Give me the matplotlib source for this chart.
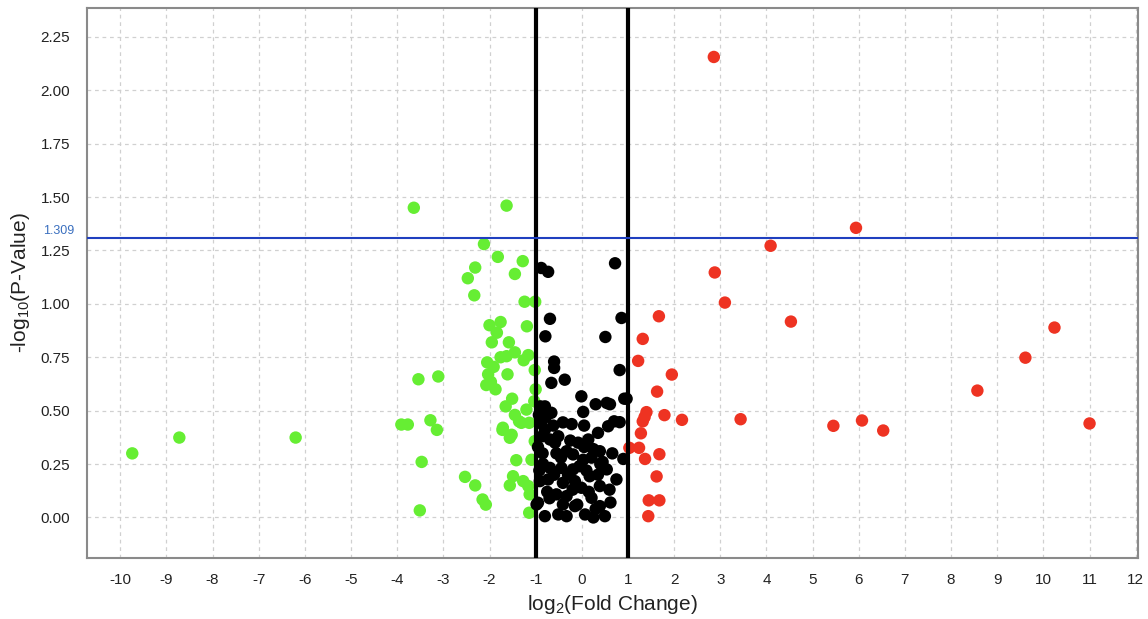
import matplotlib
matplotlib.use("Agg")
import matplotlib.pyplot as plt
import numpy as np

plt.rcParams['font.family'] = ['Liberation Sans', 'DejaVu Sans']
plt.rcParams['mathtext.default'] = 'regular'

# Down-regulated (green) points: log2FC, -log10(p)
green_x = [-9.74, -8.72, -6.20, -3.64, -1.63, -3.91, -3.77, -3.54, -3.11, -3.28, -3.14, -3.47, -3.51,
           -2.53, -2.31, -2.15, -2.08, -2.12, -1.82, -1.28, -2.31, -2.47, -1.45, -2.33, -1.24, -1.01,
           -2.00, -1.76, -1.84, -1.19, -1.95, -1.58, -1.45, -1.76, -1.63, -1.16, -1.26, -2.05, -1.02,
           -1.91, -2.03, -1.61, -2.07, -1.87, -1.00, -1.51, -1.65, -1.03, -1.45, -1.20, -1.36, -1.14,
           -1.72, -1.56, -1.02, -1.42, -1.09, -1.49, -1.56, -1.27, -1.16, -1.13, -1.14, -1.31, -1.52,
           -1.71, -1.97]
green_y = [0.300, 0.374, 0.374, 1.450, 1.460, 0.435, 0.435, 0.647, 0.660, 0.455, 0.410, 0.260, 0.033,
           0.190, 0.150, 0.084, 0.060, 1.280, 1.220, 1.200, 1.170, 1.120, 1.140, 1.040, 1.010, 1.010,
           0.900, 0.915, 0.865, 0.895, 0.820, 0.820, 0.773, 0.750, 0.755, 0.760, 0.736, 0.726, 0.690,
           0.705, 0.670, 0.670, 0.620, 0.600, 0.600, 0.556, 0.520, 0.544, 0.480, 0.505, 0.450, 0.443,
           0.410, 0.373, 0.357, 0.268, 0.270, 0.193, 0.150, 0.170, 0.147, 0.108, 0.022, 0.443, 0.387,
           0.420, 0.635]

# Not significant fold change (black)
black_x = [-0.88, -0.73, 0.72, -0.69, 0.86, -0.79, 0.51, -0.60, -0.60, 0.82, -0.66, -0.37, -0.01, 0.97,
           0.92, 0.30, 0.54, 0.61, 0.03, -0.80, -0.66, 0.82, 0.57, -0.22, -0.41, -0.80, 0.35, -0.69,
           -0.51, -0.08, 0.14, 0.39, -0.33, -0.19, 0.03, 0.21, 0.90, -0.84, -0.69, -0.44, -0.19, 0.54,
           0.17, 0.35, 0.75, -0.91, -0.73, -0.41, -0.15, -0.01, 0.39, -0.55, -0.33, 0.21, -0.95, -0.41,
           -0.15, 0.39, -0.80, -0.51, -0.33, 0.07, 0.50, -0.98, -0.93, -0.88, -0.95, -0.85, -0.55, -0.45,
           -0.25, 0.05, 0.25, -0.60, -0.30, -0.05, 0.10, 0.45, 0.60, -0.70, -0.20, 0.15, 0.30, -0.62,
           0.66, -0.92, 0.05, -0.10, 0.25, 0.70, -0.75, -0.58, 0.40, 0.62, -0.90, -0.78, -0.86]
black_y = [1.168, 1.150, 1.190, 0.930, 0.934, 0.848, 0.845, 0.730, 0.700, 0.690, 0.630, 0.645, 0.567,
           0.556, 0.556, 0.530, 0.536, 0.530, 0.494, 0.520, 0.490, 0.446, 0.427, 0.437, 0.445, 0.410,
           0.396, 0.365, 0.380, 0.350, 0.365, 0.310, 0.310, 0.295, 0.270, 0.280, 0.274, 0.250, 0.232,
           0.232, 0.225, 0.225, 0.193, 0.200, 0.178, 0.170, 0.178, 0.162, 0.170, 0.139, 0.147, 0.108,
           0.100, 0.092, 0.069, 0.061, 0.053, 0.053, 0.006, 0.014, 0.006, 0.014, 0.006, 0.061, 0.480,
           0.440, 0.330, 0.300, 0.300, 0.280, 0.360, 0.330, 0.320, 0.200, 0.200, 0.240, 0.220, 0.260,
           0.130, 0.090, 0.130, 0.120, 0.040, 0.430, 0.300, 0.220, 0.430, 0.060, 0.000, 0.450, 0.120,
           0.350, 0.250, 0.070, 0.520, 0.470, 0.380]

# Up-regulated (red)
red_x = [2.86, 5.94, 4.09, 2.88, 3.10, 1.67, 4.53, 10.24, 1.32, 9.61, 1.22, 1.95, 1.63, 8.57, 1.40,
         1.32, 1.79, 2.17, 3.44, 6.07, 5.45, 6.53, 11.00, 1.28, 1.03, 1.24, 1.37, 1.68, 1.62, 1.45,
         1.68, 1.44, 1.36]
red_y = [2.156, 1.356, 1.272, 1.147, 1.006, 0.942, 0.917, 0.889, 0.836, 0.748, 0.733, 0.669, 0.589,
         0.594, 0.493, 0.450, 0.479, 0.457, 0.460, 0.454, 0.429, 0.407, 0.440, 0.394, 0.326, 0.326,
         0.274, 0.296, 0.192, 0.080, 0.080, 0.006, 0.470]

fc_thresholds = [-1, 1]
p_threshold = 1.309
x_ticks = list(range(-10, 13))
y_ticks = [0.0, 0.25, 0.5, 0.75, 1.0, 1.25, 1.5, 1.75, 2.0, 2.25]

fig = plt.figure(figsize=(11.48, 6.19), dpi=100)
ax = fig.add_axes([0.0758, 0.0985, 0.9155, 0.8885])

ms = 80
ax.scatter(green_x, green_y, s=ms, c='#66ee33', edgecolors='none', zorder=3)
ax.scatter(black_x, black_y, s=ms, c='#000000', edgecolors='none', zorder=3)
ax.scatter(red_x, red_y, s=ms, c='#ee3322', edgecolors='none', zorder=3)

for xv in fc_thresholds:
    ax.axvline(xv, color='black', lw=3, zorder=4)
ax.axhline(p_threshold, color='#1f3fbf', lw=1.5, zorder=4)
ax.text(-11.0, p_threshold + 0.005, f'{p_threshold:.3f}', color='#3a6fbf', fontsize=9,
        ha='right', va='bottom', clip_on=False)

ax.set_xlim(-10.72, 12.05)
ax.set_ylim(-0.19, 2.385)
ax.set_xticks(x_ticks)
ax.set_xticklabels([str(t) for t in x_ticks])
ax.set_yticks(y_ticks)
ax.set_yticklabels([f'{t:.2f}' for t in y_ticks])
ax.tick_params(axis='both', length=0, labelsize=11, pad=12, colors='#222222')
ax.tick_params(axis='x', pad=11)
ax.grid(True, ls=(0, (3, 3)), color='#d0d0d0', lw=0.9, zorder=0)
ax.set_axisbelow(True)
for s in ax.spines.values():
    s.set_color('#8a8a8a')
    s.set_linewidth(1.5)

ax.set_xlabel('log$_{2}$(Fold Change)', fontsize=15, labelpad=4, color='#222222')
ax.set_ylabel('-log$_{10}$(P-Value)', fontsize=15, labelpad=6, color='#222222')

fig.savefig('out.png', dpi=100)
